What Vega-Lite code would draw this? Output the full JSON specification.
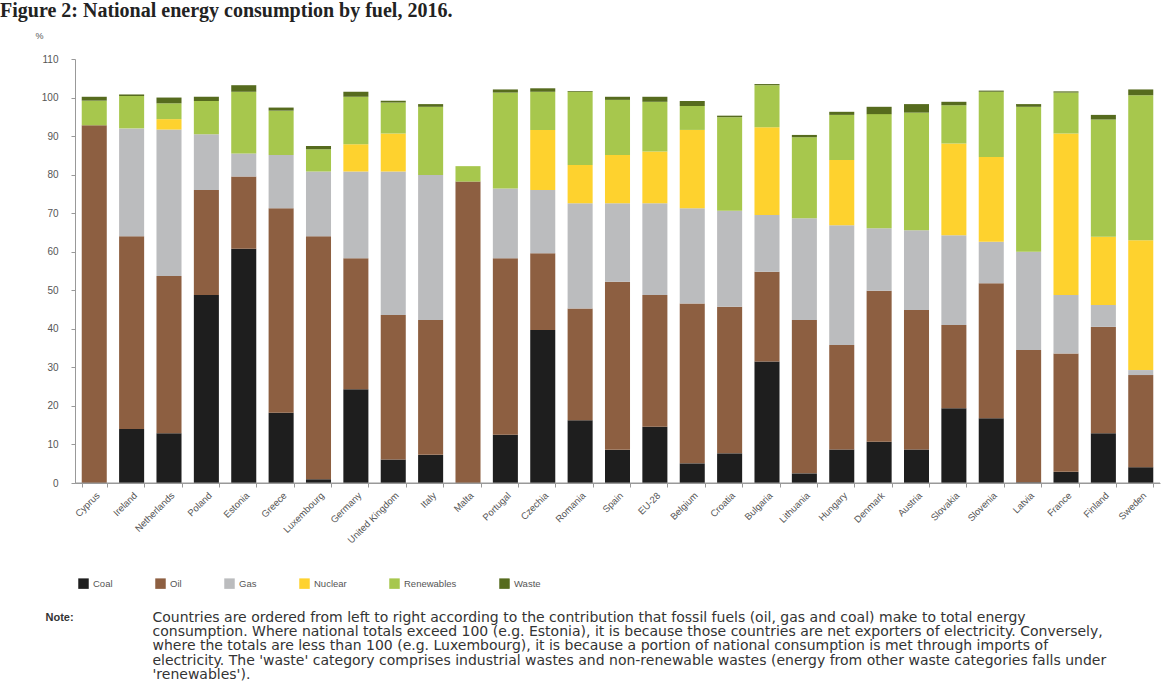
{
  "$schema": "https://vega.github.io/schema/vega-lite/v6.json",
  "width": 1085,
  "height": 424,
  "autosize": {"type": "none"},
  "padding": {"left": 75, "top": 59, "right": 8, "bottom": 207},
  "background": "white",
  "title": {
    "text": "Figure 2: National energy consumption by fuel, 2016.",
    "anchor": "start",
    "frame": "group",
    "dx": -75,
    "dy": -10,
    "offset": 0,
    "font": "Liberation Serif",
    "fontSize": 20,
    "fontWeight": "bold",
    "color": "#222222"
  },
  "config": {"view": {"stroke": null}, "font": "Liberation Sans"},
  "layer": [
    {
      "data": {
        "values": [
          {"country": "Cyprus", "Coal": 0, "Oil": 92.8, "Gas": 0, "Nuclear": 0, "Renewables": 6.4, "Waste": 1.0},
          {"country": "Ireland", "Coal": 14, "Oil": 50, "Gas": 28, "Nuclear": 0, "Renewables": 8.4, "Waste": 0.4},
          {"country": "Netherlands", "Coal": 12.9, "Oil": 40.8, "Gas": 38, "Nuclear": 2.7, "Renewables": 4.1, "Waste": 1.5},
          {"country": "Poland", "Coal": 48.8, "Oil": 27.2, "Gas": 14.5, "Nuclear": 0, "Renewables": 8.6, "Waste": 1.1},
          {"country": "Estonia", "Coal": 60.8, "Oil": 18.7, "Gas": 6, "Nuclear": 0, "Renewables": 16, "Waste": 1.7},
          {"country": "Greece", "Coal": 18.2, "Oil": 53.1, "Gas": 13.8, "Nuclear": 0, "Renewables": 11.5, "Waste": 0.8},
          {"country": "Luxembourg", "Coal": 1, "Oil": 63, "Gas": 16.8, "Nuclear": 0, "Renewables": 5.8, "Waste": 0.8},
          {"country": "Germany", "Coal": 24.3, "Oil": 34, "Gas": 22.5, "Nuclear": 7.1, "Renewables": 12.3, "Waste": 1.3},
          {"country": "United Kingdom", "Coal": 6.1, "Oil": 37.5, "Gas": 37.2, "Nuclear": 9.9, "Renewables": 8, "Waste": 0.5},
          {"country": "Italy", "Coal": 7.3, "Oil": 35, "Gas": 37.6, "Nuclear": 0, "Renewables": 17.7, "Waste": 0.7},
          {"country": "Malta", "Coal": 0, "Oil": 78.2, "Gas": 0, "Nuclear": 0, "Renewables": 4, "Waste": 0},
          {"country": "Portugal", "Coal": 12.5, "Oil": 45.8, "Gas": 18.1, "Nuclear": 0, "Renewables": 24.9, "Waste": 0.8},
          {"country": "Czechia", "Coal": 39.7, "Oil": 19.9, "Gas": 16.4, "Nuclear": 15.6, "Renewables": 9.9, "Waste": 0.9},
          {"country": "Romania", "Coal": 16.3, "Oil": 29, "Gas": 27.3, "Nuclear": 9.9, "Renewables": 19, "Waste": 0.2},
          {"country": "Spain", "Coal": 8.6, "Oil": 43.6, "Gas": 20.4, "Nuclear": 12.5, "Renewables": 14.3, "Waste": 0.8},
          {"country": "EU-28", "Coal": 14.6, "Oil": 34.2, "Gas": 23.8, "Nuclear": 13.4, "Renewables": 12.9, "Waste": 1.3},
          {"country": "Belgium", "Coal": 5.1, "Oil": 41.5, "Gas": 24.7, "Nuclear": 20.3, "Renewables": 6.2, "Waste": 1.3},
          {"country": "Croatia", "Coal": 7.7, "Oil": 38, "Gas": 24.9, "Nuclear": 0, "Renewables": 24.3, "Waste": 0.4},
          {"country": "Bulgaria", "Coal": 31.5, "Oil": 23.3, "Gas": 14.7, "Nuclear": 22.8, "Renewables": 10.9, "Waste": 0.3},
          {"country": "Lithuania", "Coal": 2.5, "Oil": 39.8, "Gas": 26.4, "Nuclear": 0, "Renewables": 21, "Waste": 0.6},
          {"country": "Hungary", "Coal": 8.7, "Oil": 27.1, "Gas": 31.1, "Nuclear": 16.9, "Renewables": 11.7, "Waste": 0.8},
          {"country": "Denmark", "Coal": 10.7, "Oil": 39.2, "Gas": 16.2, "Nuclear": 0, "Renewables": 29.6, "Waste": 1.9},
          {"country": "Austria", "Coal": 8.7, "Oil": 36.2, "Gas": 20.7, "Nuclear": 0, "Renewables": 30.5, "Waste": 2.2},
          {"country": "Slovakia", "Coal": 19.4, "Oil": 21.6, "Gas": 23.3, "Nuclear": 23.8, "Renewables": 9.9, "Waste": 0.9},
          {"country": "Slovenia", "Coal": 16.8, "Oil": 35, "Gas": 10.8, "Nuclear": 22, "Renewables": 16.9, "Waste": 0.3},
          {"country": "Latvia", "Coal": 0.2, "Oil": 34.3, "Gas": 25.5, "Nuclear": 0, "Renewables": 37.6, "Waste": 0.7},
          {"country": "France", "Coal": 2.9, "Oil": 30.7, "Gas": 15.2, "Nuclear": 41.9, "Renewables": 10.6, "Waste": 0.3},
          {"country": "Finland", "Coal": 12.9, "Oil": 27.6, "Gas": 5.7, "Nuclear": 17.7, "Renewables": 30.4, "Waste": 1.2},
          {"country": "Sweden", "Coal": 4.1, "Oil": 23.9, "Gas": 1.3, "Nuclear": 33.7, "Renewables": 37.6, "Waste": 1.5}
        ]
      },
      "transform": [
        {"fold": ["Coal", "Oil", "Gas", "Nuclear", "Renewables", "Waste"], "as": ["fuel", "value"]},
        {"stack": "value", "groupby": ["country"], "as": ["v0", "v1"]}
      ],
      "mark": {"type": "bar"},
      "encoding": {
        "x": {
          "field": "country",
          "type": "nominal",
          "sort": null,
          "scale": {"paddingInner": 0.33, "paddingOuter": 0.18},
          "axis": {
            "title": [
              "Countries are ordered from left to right according to the contribution that fossil fuels (oil, gas and coal) make to total energy",
              "consumption. Where national totals exceed 100 (e.g. Estonia), it is because those countries are net exporters of electricity. Conversely,",
              "where the totals are less than 100 (e.g. Luxembourg), it is because a portion of national consumption is met through imports of",
              "electricity. The 'waste' category comprises industrial wastes and non-renewable wastes (energy from other waste categories falls under",
              "'renewables')."
            ],
            "titleX": 77,
            "titleY": 127,
            "titleAlign": "left",
            "titleAnchor": "start",
            "titleBaseline": "top",
            "titleAngle": 0,
            "titleFont": "DejaVu Sans",
            "titleFontWeight": "normal",
            "titleFontSize": 14,
            "titleColor": "#333333",
            "titleLineHeight": 14.4,
            "labelAngle": -45,
            "labelFontSize": 9.5,
            "labelColor": "#555555",
            "labelPadding": 3,
            "labelOverlap": false,
            "tickBand": "extent",
            "tickSize": 4,
            "tickColor": "#999999",
            "domainColor": "#999999"
          }
        },
        "y": {
          "field": "v1",
          "type": "quantitative",
          "scale": {"domain": [0, 110]},
          "axis": {
            "title": "%",
            "titleAngle": 0,
            "titleX": -40,
            "titleY": -24,
            "titleAlign": "left",
            "titleBaseline": "middle",
            "titleFontSize": 9,
            "titleFontWeight": "normal",
            "titleColor": "#555555",
            "values": [0, 10, 20, 30, 40, 50, 60, 70, 80, 90, 100, 110],
            "labelFontSize": 10,
            "labelColor": "#555555",
            "labelPadding": 13,
            "tickSize": 4,
            "tickColor": "#999999",
            "domainColor": "#999999",
            "grid": false
          }
        },
        "y2": {"field": "v0"},
        "color": {
          "field": "fuel",
          "type": "nominal",
          "scale": {
            "domain": ["Coal", "Oil", "Gas", "Nuclear", "Renewables", "Waste"],
            "range": ["#1e1e1e", "#8d5f41", "#bbbcbe", "#fed22e", "#a7c74d", "#566b1e"]
          },
          "legend": {
            "orient": "none",
            "legendX": 3,
            "legendY": 519,
            "direction": "horizontal",
            "title": null,
            "symbolType": "square",
            "symbolSize": 110,
            "symbolStrokeWidth": 0,
            "labelFontSize": 9.5,
            "labelColor": "#555555",
            "labelOffset": 4,
            "columnPadding": 42
          }
        }
      }
    },
    {
      "data": {"values": [{"base": 0}]},
      "mark": {"type": "rule", "color": "#999999", "strokeWidth": 1},
      "encoding": {
        "y": {
          "field": "base",
          "type": "quantitative",
          "scale": {"domain": [0, 110]},
          "axis": {
            "orient": "right",
            "title": "Note:",
            "labels": false,
            "ticks": false,
            "domain": false,
            "grid": false,
            "titleAngle": 0,
            "titleX": -1115,
            "titleY": 558,
            "titleAlign": "left",
            "titleBaseline": "middle",
            "titleFontWeight": "bold",
            "titleFontSize": 11,
            "titleColor": "#333333"
          }
        }
      }
    }
  ],
  "resolve": {"axis": {"y": "independent"}}
}
